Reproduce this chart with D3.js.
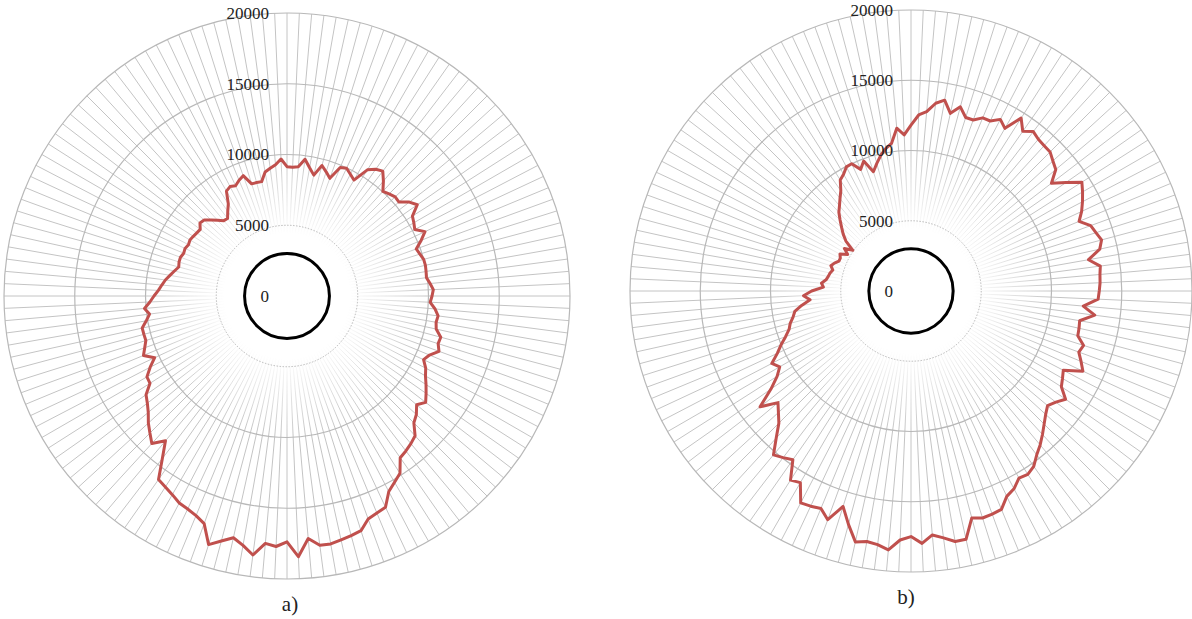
<!DOCTYPE html>
<html>
<head>
<meta charset="utf-8">
<script src="https://cdn.jsdelivr.net/npm/d3@7"></script>
<style>
  body { margin: 0; background: #fff; }
  svg { display: block; }
  text { font-family: "Liberation Serif", "DejaVu Serif", serif; fill: #222; }
</style>
</head>
<body>
<svg id="chart" width="1192" height="619"></svg>
<script>
// values, one per spoke, every 2.5 degrees clockwise from the top
var valuesA = [
  9140, 9100, 9170, 9750, 9200, 8750, 9550, 9200, 8850, 9830, 9960, 9700,
  9460, 10570, 10930, 11120, 10600, 10030, 10200, 10370, 10330, 10900, 11240, 10510,
  10350, 10180, 10760, 10260, 9720, 9850, 10000, 10020, 9980, 9940, 10150, 10350,
  10250, 10130, 10500, 10770, 10700, 10800, 11250, 11200, 11430, 10900, 10650, 11050,
  11300, 11650, 12000, 12350, 11960, 12400, 12680, 13400, 13620, 13800, 13950, 14860,
  15200, 15580, 16470, 16600, 16770, 17390, 17530, 17650, 17790, 17770, 17200, 18440,
  17370, 17720, 17550, 18460, 17900, 17500, 17930, 18420, 17120, 16800, 16610, 16490,
  16210, 16000, 15830, 14470, 13360, 14140, 13700, 13290, 12800, 12440, 12160, 11480,
  11430, 10900, 10320, 10980, 10700, 10460, 10470, 10480, 10100, 9800, 10110, 9700,
  9400, 9100, 8880, 8670, 8400, 8150, 7920, 8000, 8010, 7900, 7950, 7850,
  7920, 7850, 7780, 7730, 8030, 7940, 7600, 7250, 6950, 6900, 7300, 7720,
  8560, 8720, 8600, 8850, 9050, 8310, 8300, 8280, 8900, 9100, 9310, 9690
];
var valuesB = [
  11810, 12540, 12810, 13480, 13790, 12950, 13570, 12950, 12950, 13340, 13350, 13770,
  13370, 14590, 13870, 14300, 14100, 14030, 14000, 13700, 13450, 12600, 13470, 14420,
  14100, 13760, 13400, 12950, 13610, 13800, 14040, 13760, 12830, 13590, 13500, 13470,
  13400, 13330, 12310, 13190, 12190, 12250, 12290, 12880, 12710, 13100, 13500, 12220,
  12450, 12690, 13430, 13000, 12690, 13000, 13400, 13850, 14300, 14700, 15230, 15470,
  15370, 15870, 16130, 16820, 16900, 16940, 16720, 18100, 18100, 17720, 17430, 17980,
  17480, 17740, 18500, 18210, 18100, 18290, 17200, 16080, 17320, 16750, 16900, 17000,
  15750, 15960, 14660, 14950, 15230, 14200, 13300, 12800, 12360, 13540, 12170, 11300,
  10790, 11170, 10500, 10010, 9500, 9100, 8900, 8600, 8400, 7850, 7210, 7660,
  7070, 6240, 6400, 6100, 5980, 5900, 5760, 5980, 5800, 5550, 5550, 5700,
  5200, 5620, 5050, 5840, 6300, 6700, 7140, 7600, 7920, 8300, 8710, 9370,
  9600, 9960, 9990, 9370, 9840, 8900, 9400, 9900, 10300, 10600, 11630, 11120
];
var ringTicks = [5000, 10000, 15000, 20000];
var tickLabels = ["0", "5000", "10000", "15000", "20000"];
var threshold = 3000; // the black reference circle
var captions = ["a)", "b)"];

var svg = d3.select("#chart");
var defs = svg.append("defs");

// spokes fade out towards the middle
var grad = defs.append("radialGradient").attr("id", "fade");
grad.append("stop").attr("offset", "0").attr("stop-color", "#000");
grad.append("stop").attr("offset", "0.22").attr("stop-color", "#000");
grad.append("stop").attr("offset", "0.5").attr("stop-color", "#fff");
grad.append("stop").attr("offset", "1").attr("stop-color", "#fff");

function drawRadar(values, cx, cy, R, caption, capX, capY, id){

  var r = d3.scaleLinear().domain([0, 20000]).range([0, R]);
  var angle = d3.scaleLinear().domain([0, values.length]).range([0, 2 * Math.PI]);

  var g = svg.append("g").attr("transform", "translate(" + cx + "," + cy + ")");

  var mask = defs.append("mask").attr("id", "m" + id);
  mask.append("circle").attr("r", R + 2).attr("fill", "url(#fade)");

  // spokes
  g.append("g").attr("mask", "url(#m" + id + ")")
    .selectAll("line").data(values).enter().append("line")
    .attr("x1", 0).attr("y1", 0)
    .attr("x2", function(d, i){ return R * Math.sin(angle(i)); })
    .attr("y2", function(d, i){ return -R * Math.cos(angle(i)); })
    .style("stroke", "#c4c4c4")
    .style("stroke-width", 1);

  // rings
  g.selectAll("circle.ring").data(ringTicks).enter().append("circle")
    .attr("class", "ring")
    .attr("r", function(d){ return r(d); })
    .style("fill", "none")
    .style("stroke", function(d){ return d == 5000 ? "#aaa" : "#b8b8b8"; })
    .style("stroke-width", function(d){ return d == 5000 ? 0.8 : 1.2; })
    .style("stroke-dasharray", function(d){ return d == 5000 ? "1.5,1.5" : null; });

  // threshold circle
  g.append("circle")
    .attr("r", r(threshold))
    .style("fill", "none")
    .style("stroke", "#000")
    .style("stroke-width", 3);

  // data line
  var line = d3.lineRadial()
    .angle(function(d, i){ return angle(i); })
    .radius(function(d){ return r(d); })
    .curve(d3.curveLinearClosed);

  g.append("path")
    .datum(values)
    .attr("d", line)
    .style("fill", "none")
    .style("stroke", "#c0504d")
    .style("stroke-width", 3)
    .style("stroke-linejoin", "round");

  // tick labels on the vertical axis
  g.selectAll("text.tick").data([0].concat(ringTicks)).enter().append("text")
    .attr("class", "tick")
    .attr("x", -18)
    .attr("y", function(d){ return -r(d); })
    .attr("dy", "0.35em")
    .style("text-anchor", "end")
    .style("font-size", "17px")
    .text(function(d, i){ return tickLabels[i]; });

  svg.append("text")
    .attr("x", capX).attr("y", capY)
    .style("text-anchor", "middle")
    .style("font-size", "21px")
    .text(caption);
}

drawRadar(valuesA, 287, 296, 283, captions[0], 290, 611, "a");
drawRadar(valuesB, 911, 291, 281, captions[1], 906, 604, "b");
</script>
</body>
</html>
